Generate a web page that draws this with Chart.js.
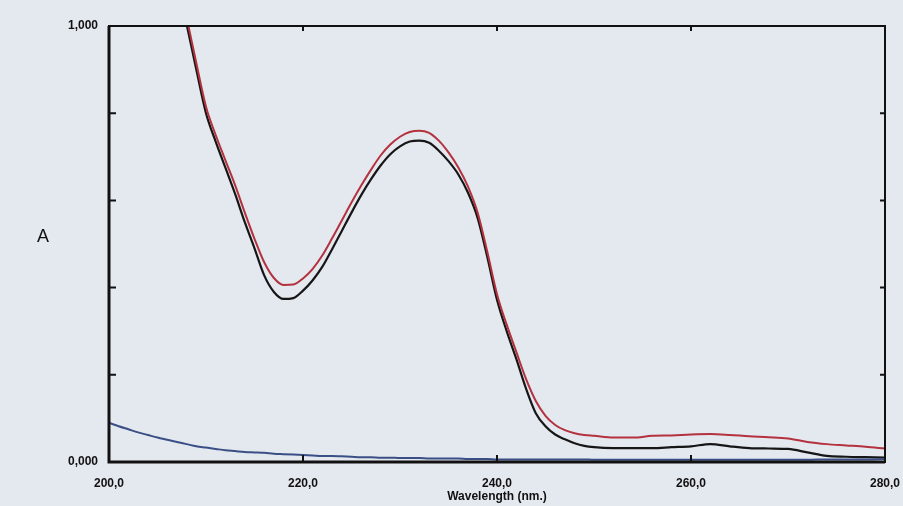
<!DOCTYPE html>
<html>
<head>
<meta charset="utf-8">
<script src="https://cdn.jsdelivr.net/npm/chart.js@4/dist/chart.umd.min.js"></script>
<style>
  html, body { margin: 0; padding: 0; background: #e4e8ef; }
  #wrap { position: relative; width: 903px; height: 506px; }
  #yTitle { position: absolute; left: 37px; top: 226px; font: 18px "Liberation Sans", Arial, sans-serif; color: #111; }
</style>
</head>
<body>
<div id="wrap">
  <canvas id="c" width="903" height="506"></canvas>
  <div id="yTitle">A</div>
</div>
<script>
// Wavelength (nm)
const wavelengths = [200,201,202,203,204,205,206,207,208,209,210,211,212,213,214,215,216,217,218,219,220,221,222,223,224,225,226,227,228,229,230,231,232,233,234,235,236,237,238,239,240,241,242,243,244,245,246,247,248,249,250,252,254,256,258,260,262,264,266,268,270,272,274,276,278,280];
// Black spectrum
const seriesBlack = [null,null,null,null,null,null,1.20,1.10,1.004,0.90,0.80,0.735,0.675,0.615,0.55,0.49,0.428,0.39,0.374,0.376,0.393,0.417,0.448,0.488,0.530,0.572,0.612,0.648,0.680,0.706,0.724,0.735,0.737,0.732,0.714,0.690,0.660,0.618,0.560,0.470,0.372,0.300,0.236,0.168,0.112,0.082,0.063,0.052,0.043,0.037,0.034,0.032,0.032,0.032,0.034,0.036,0.041,0.036,0.032,0.031,0.030,0.022,0.014,0.012,0.011,0.010];
// Red spectrum
const seriesRed = [null,null,null,null,null,null,1.22,1.12,1.02,0.915,0.815,0.750,0.692,0.635,0.572,0.512,0.458,0.422,0.406,0.407,0.421,0.443,0.474,0.513,0.554,0.595,0.634,0.670,0.703,0.728,0.746,0.757,0.760,0.755,0.737,0.710,0.676,0.632,0.572,0.482,0.385,0.315,0.252,0.190,0.140,0.106,0.085,0.073,0.066,0.062,0.060,0.056,0.056,0.060,0.061,0.063,0.064,0.062,0.059,0.057,0.054,0.046,0.041,0.038,0.035,0.031];
// Blue (blank) spectrum
const seriesBlue = [0.090,0.082,0.075,0.068,0.062,0.056,0.051,0.046,0.041,0.036,0.033,0.030,0.027,0.025,0.023,0.022,0.021,0.019,0.018,0.017,0.016,0.015,0.014,0.014,0.013,0.012,0.011,0.011,0.010,0.010,0.009,0.009,0.009,0.008,0.008,0.008,0.008,0.007,0.007,0.007,0.006,0.006,0.006,0.006,0.006,0.006,0.006,0.006,0.006,0.006,0.005,0.005,0.005,0.005,0.005,0.005,0.005,0.005,0.005,0.005,0.005,0.005,0.006,0.006,0.006,0.007];
const xTicks = [200,220,240,260,280];
const yTicks = [0,0.2,0.4,0.6,0.8,1.0];

const toXY = arr => wavelengths.map((w,i) => ({x:w, y:arr[i]}));

const framePlugin = {
  id: 'frame',
  afterDatasetsDraw(chart) {
    const {ctx, chartArea: a, scales} = chart;
    ctx.save();
    ctx.strokeStyle = '#111';
    ctx.lineWidth = 2;
    ctx.strokeRect(a.left, a.top, a.right - a.left, a.bottom - a.top);
    ctx.lineWidth = 3;
    ctx.beginPath();
    ctx.moveTo(a.left, a.top); ctx.lineTo(a.left, a.bottom); ctx.lineTo(a.right, a.bottom);
    ctx.stroke();
    ctx.lineWidth = 2;
    ctx.beginPath();
    xTicks.slice(1, -1).forEach(v => {
      const px = scales.x.getPixelForValue(v);
      ctx.moveTo(px, a.bottom); ctx.lineTo(px, a.bottom - 7);
      ctx.moveTo(px, a.top); ctx.lineTo(px, a.top + 5);
    });
    yTicks.slice(1, -1).forEach(v => {
      const py = scales.y.getPixelForValue(v);
      ctx.moveTo(a.left, py); ctx.lineTo(a.left + 7, py);
      ctx.moveTo(a.right, py); ctx.lineTo(a.right - 5, py);
    });
    ctx.stroke();
    ctx.restore();
  }
};

new Chart(document.getElementById('c'), {
  type: 'line',
  data: {
    datasets: [
      { data: toXY(seriesBlue), borderColor: '#3a4f86', borderWidth: 2 },
      { data: toXY(seriesRed), borderColor: '#b3323e', borderWidth: 2 },
      { data: toXY(seriesBlack), borderColor: '#161616', borderWidth: 2.2 }
    ]
  },
  options: {
    responsive: false,
    animation: false,
    layout: { padding: { left: 0, right: 18, top: 26, bottom: 0 } },
    elements: { point: { radius: 0 }, line: { cubicInterpolationMode: 'monotone' } },
    plugins: { legend: { display: false }, tooltip: { enabled: false } },
    scales: {
      x: {
        type: 'linear', min: 200, max: 280,
        afterFit(s) { s.height = 44; s.paddingRight = 0; s.paddingLeft = 0; },
        afterBuildTicks(s) { s.ticks = xTicks.map(v => ({value: v})); },
        grid: { display: false },
        border: { display: false },
        ticks: {
          padding: 6, maxRotation: 0, autoSkip: false,
          color: '#111', font: { family: 'Liberation Sans', size: 12, weight: 'bold' },
          callback: v => v.toFixed(1).replace('.', ',')
        },
        title: {
          display: true, text: 'Wavelength (nm.)', color: '#111', padding: { top: 0, bottom: 2 },
          font: { family: 'Liberation Sans', size: 12, weight: 'bold' }
        }
      },
      y: {
        type: 'linear', min: 0, max: 1,
        afterFit(s) { s.width = 109; s.paddingTop = 0; s.paddingBottom = 0; },
        afterBuildTicks(s) { s.ticks = yTicks.map(v => ({value: v})); },
        grid: { display: false },
        border: { display: false },
        ticks: {
          padding: 3, autoSkip: false,
          color: '#111', font: { family: 'Liberation Sans', size: 12, weight: 'bold' },
          callback: v => (v === 0 || v === 1) ? v.toFixed(3).replace('.', ',') : ''
        }
      }
    }
  },
  plugins: [framePlugin]
});
</script>
</body>
</html>
